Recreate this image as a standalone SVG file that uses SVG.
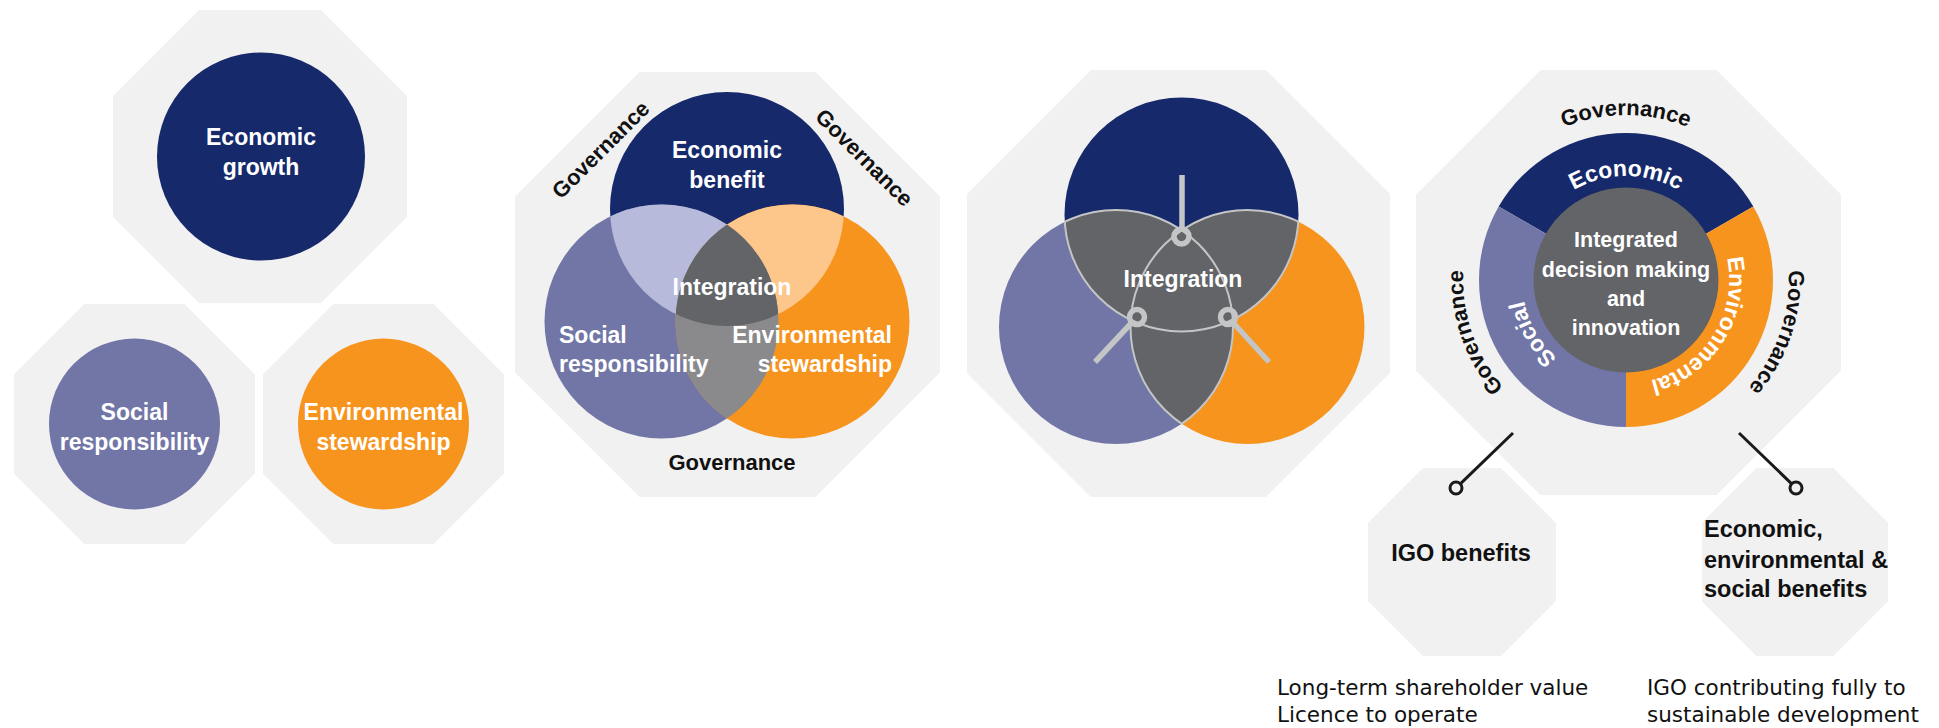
<svg xmlns="http://www.w3.org/2000/svg" xmlns:xlink="http://www.w3.org/1999/xlink" width="1939" height="728" viewBox="0 0 1939 728">
<style>
.oct{fill:#f1f1f1}
.navy{fill:#16296b}
.soc{fill:#7276a6}
.env{fill:#f7941e}
.dg{fill:#636467}
.wl{font-family:"Liberation Sans",Arial,sans-serif;font-weight:bold;font-size:23px;fill:#fff}
.wr{font-family:"Liberation Sans",Arial,sans-serif;font-weight:bold;font-size:23px;fill:#fff}
.wc{font-family:"Liberation Sans",Arial,sans-serif;font-weight:bold;font-size:21.5px;fill:#fff}
.gov{font-family:"Liberation Sans",Arial,sans-serif;font-weight:bold;font-size:22px;fill:#111}
.bl{font-family:"Liberation Sans",Arial,sans-serif;font-weight:bold;font-size:23.5px;fill:#111}
.cap{font-family:"DejaVu Sans",sans-serif;font-size:21.5px;fill:#111}
.mid{text-anchor:middle}
.end{text-anchor:end}
.hand{stroke:#c4c5c7;stroke-width:5.5;fill:none}
.arc{stroke:#c4c5c7;stroke-width:2;fill:none}
.conn{stroke:#1a1a1a;stroke-width:3;fill:none}
</style>
<defs>
<clipPath id="p2T"><circle cx="727" cy="209" r="117"/></clipPath>
<clipPath id="p2L"><circle cx="661.5" cy="321.5" r="117"/></clipPath>
<clipPath id="p3T"><circle cx="1181.5" cy="214.5" r="117"/></clipPath>
<clipPath id="p3L"><circle cx="1116" cy="327" r="117"/></clipPath>
<clipPath id="p3LR"><circle cx="1116" cy="327" r="117"/><circle cx="1247.5" cy="327" r="117"/></clipPath>
<clipPath id="p3TR"><circle cx="1181.5" cy="214.5" r="117"/><circle cx="1247.5" cy="327" r="117"/></clipPath>
<clipPath id="p3TL"><circle cx="1181.5" cy="214.5" r="117"/><circle cx="1116" cy="327" r="117"/></clipPath>
<path id="tpEco" d="M1522,280 A104,104 0 0 1 1730,280"/>
<path id="tpEnv" d="M1681.1,191.8 A104,104 0 0 1 1570.9,368.2"/>
<path id="tpSoc" d="M1678,370.1 A104,104 0 0 1 1574,189.9"/>
<path id="tpGovT" d="M1461,280 A165,165 0 0 1 1791,280"/>
<path id="tpGovL" d="M1679.7,436 A165,165 0 0 1 1572.3,124"/>
<path id="tpGovR" d="M1679.7,124 A165,165 0 0 1 1572.3,436"/>
</defs>

<g id="economic-growth">
<polygon class="oct" points="199,10 321,10 407,96 407,217 321,303 199,303 113,217 113,96"/>
<circle class="navy" cx="261" cy="156.5" r="104"/>
<text class="wl mid" x="261" y="145">Economic</text>
<text class="wl mid" x="261" y="175">growth</text>
</g>
<g id="social-responsibility">
<polygon class="oct" points="84.5,304 184.5,304 255,374.5 255,473.5 184.5,544 84.5,544 14,473.5 14,374.5"/>
<circle class="soc" cx="134.5" cy="424" r="85.5"/>
<text class="wl mid" x="134.5" y="420">Social</text>
<text class="wl mid" x="134.5" y="450">responsibility</text>
</g>
<g id="environmental-stewardship">
<polygon class="oct" points="333.5,304 433.5,304 504,374.5 504,473.5 433.5,544 333.5,544 263,473.5 263,374.5"/>
<circle class="env" cx="383.5" cy="424" r="85.5"/>
<text class="wl mid" x="383.5" y="420">Environmental</text>
<text class="wl mid" x="383.5" y="450">stewardship</text>
</g>

<g id="venn-governance">
<polygon class="oct" points="639.5,72 815.5,72 940,196.5 940,372.5 815.5,497 639.5,497 515,372.5 515,196.5"/>
<circle class="navy" cx="727" cy="209" r="117"/>
<circle class="soc" cx="661.5" cy="321.5" r="117"/>
<circle class="env" cx="792.5" cy="321.5" r="117"/>
<circle cx="661.5" cy="321.5" r="117" fill="#b8badb" clip-path="url(#p2T)"/>
<circle cx="792.5" cy="321.5" r="117" fill="#fdc68a" clip-path="url(#p2T)"/>
<circle cx="792.5" cy="321.5" r="117" fill="#8a8a8d" clip-path="url(#p2L)"/>
<g clip-path="url(#p2T)"><circle class="dg" cx="792.5" cy="321.5" r="117" clip-path="url(#p2L)"/></g>
<text class="wl mid" x="727" y="158">Economic</text>
<text class="wl mid" x="727" y="188">benefit</text>
<text class="wl mid" x="732" y="295">Integration</text>
<text class="wl" x="559" y="343">Social</text>
<text class="wl" x="559" y="372">responsibility</text>
<text class="wl end" x="892" y="343">Environmental</text>
<text class="wl end" x="892" y="372">stewardship</text>
<text class="gov mid" transform="translate(606,155) rotate(-45)">Governance</text>
<text class="gov mid" transform="translate(859,163) rotate(45)">Governance</text>
<text class="gov mid" x="732" y="470">Governance</text>
</g>

<g id="venn-integration">
<polygon class="oct" points="1091,70 1266,70 1390,194 1390,373 1266,497 1091,497 967,373 967,194"/>
<circle class="navy" cx="1181.5" cy="214.5" r="117"/>
<circle class="soc" cx="1116" cy="327" r="117"/>
<circle class="env" cx="1247.5" cy="327" r="117"/>
<circle class="dg" cx="1116" cy="327" r="117" clip-path="url(#p3T)"/>
<circle class="dg" cx="1247.5" cy="327" r="117" clip-path="url(#p3T)"/>
<circle class="dg" cx="1247.5" cy="327" r="117" clip-path="url(#p3L)"/>
<circle class="arc" cx="1181.5" cy="214.5" r="117" clip-path="url(#p3LR)"/>
<circle class="arc" cx="1116" cy="327" r="117" clip-path="url(#p3TR)"/>
<circle class="arc" cx="1247.5" cy="327" r="117" clip-path="url(#p3TL)"/>
<line class="hand" x1="1182" y1="175" x2="1182" y2="229"/>
<circle class="hand" cx="1181.5" cy="236.5" r="7.5"/>
<line class="hand" x1="1131.9" y1="322.5" x2="1095" y2="362"/>
<circle class="hand" cx="1137" cy="317" r="7.5"/>
<line class="hand" x1="1233" y1="322.5" x2="1269" y2="362"/>
<circle class="hand" cx="1228" cy="317" r="7.5"/>
<text class="wl mid" x="1183" y="287">Integration</text>
</g>

<g id="integrated-decision-making">
<polygon class="oct" points="1540.5,70 1716.5,70 1841,194.5 1841,370.5 1716.5,495 1540.5,495 1416,370.5 1416,194.5"/>
<path class="navy" d="M1626,280 L1498.7,206.5 A147,147 0 0 1 1753.3,206.5 Z"/>
<path class="env" d="M1626,280 L1753.3,206.5 A147,147 0 0 1 1626,427 Z"/>
<path class="soc" d="M1626,280 L1626,427 A147,147 0 0 1 1498.7,206.5 Z"/>
<circle class="dg" cx="1626" cy="280" r="92.5"/>
<text class="wr mid"><textPath xlink:href="#tpEco" startOffset="50%">Economic</textPath></text>
<text class="wr mid"><textPath xlink:href="#tpEnv" startOffset="50%">Environmental</textPath></text>
<text class="wr mid"><textPath xlink:href="#tpSoc" startOffset="50%">Social</textPath></text>
<text class="gov mid"><textPath xlink:href="#tpGovT" startOffset="50%">Governance</textPath></text>
<text class="gov mid"><textPath xlink:href="#tpGovL" startOffset="50%">Governance</textPath></text>
<text class="gov mid"><textPath xlink:href="#tpGovR" startOffset="50%">Governance</textPath></text>
<text class="wc mid" x="1626" y="247">Integrated</text>
<text class="wc mid" x="1626" y="277">decision making</text>
<text class="wc mid" x="1626" y="306">and</text>
<text class="wc mid" x="1626" y="335">innovation</text>
</g>

<g id="igo-benefits">
<polygon class="oct" points="1423,468 1501,468 1556,523 1556,601 1501,656 1423,656 1368,601 1368,523"/>
<text class="bl mid" x="1461" y="561">IGO benefits</text>
<text class="cap" x="1277" y="695">Long-term shareholder value</text>
<text class="cap" x="1277" y="722">Licence to operate</text>
</g>

<g id="ees-benefits">
<polygon class="oct" points="1756.5,468 1833.5,468 1888,522.5 1888,601.5 1833.5,656 1756.5,656 1702,601.5 1702,522.5"/>
<text class="bl" x="1704" y="537">Economic,</text>
<text class="bl" x="1704" y="568">environmental &amp;</text>
<text class="bl" x="1704" y="597">social benefits</text>
<text class="cap" x="1647" y="695">IGO contributing fully to</text>
<text class="cap" x="1647" y="722">sustainable development</text>
</g>

<g id="connectors">
<line class="conn" x1="1513" y1="433" x2="1460.3" y2="483.8"/>
<circle class="conn" cx="1456" cy="488" r="6"/>
<line class="conn" x1="1739" y1="433" x2="1791.7" y2="483.8"/>
<circle class="conn" cx="1796" cy="488" r="6"/>
</g>
</svg>
